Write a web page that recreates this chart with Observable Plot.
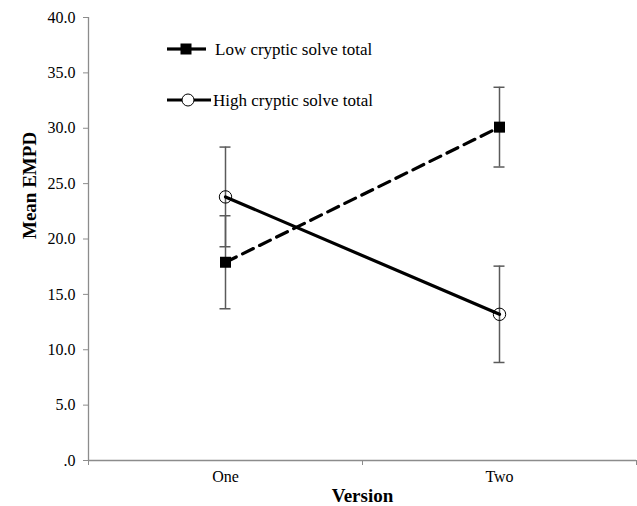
<!DOCTYPE html>
<html>
<head>
<meta charset="utf-8">
<script src="https://cdn.jsdelivr.net/npm/d3@7"></script>
<script src="https://cdn.jsdelivr.net/npm/@observablehq/plot@0.6"></script>
<style>
  html, body { margin: 0; padding: 0; background: #fff; }
  #wrap { position: relative; width: 637px; height: 506px; font-family: "Liberation Serif", "Times New Roman", serif; }
  #wrap svg text { font-family: "Liberation Serif", "Times New Roman", serif; }
  #legend { position: absolute; left: 0; top: 0; pointer-events: none; }
</style>
</head>
<body>
<div id="wrap"></div>
<script>
// ---- data ----
const versions = ["One", "Two"];
const lowMeans = [17.9, 30.1];
const lowErrs = [4.2, 3.6];
const highMeans = [23.8, 13.2];
const highErrs = [4.5, 4.35];
const seriesNames = ["Low cryptic solve total", "High cryptic solve total"];
const yTicks = [0, 5, 10, 15, 20, 25, 30, 35, 40];
const yTickLabels = [".0", "5.0", "10.0", "15.0", "20.0", "25.0", "30.0", "35.0", "40.0"];
const xTitle = "Version";
const yTitle = "Mean EMPD";

// build rows (x positioned at category index + 0.5 on a linear scale)
const rows = [];
versions.forEach((v, i) => {
  rows.push({series: seriesNames[0], pos: i + 0.5, mean: lowMeans[i], lo: lowMeans[i] - lowErrs[i], hi: lowMeans[i] + lowErrs[i]});
  rows.push({series: seriesNames[1], pos: i + 0.5, mean: highMeans[i], lo: highMeans[i] - highErrs[i], hi: highMeans[i] + highErrs[i]});
});
const low = rows.filter(d => d.series === seriesNames[0]);
const high = rows.filter(d => d.series === seriesNames[1]);
const caps = rows.flatMap(d => [{pos: d.pos, y: d.lo}, {pos: d.pos, y: d.hi}]);
const boundaries = d3.range(versions.length + 1);
const centers = versions.map((v, i) => i + 0.5);

const axisGrey = "#8c8c8c";
const barGrey = "#5a5a5a";

const chart = Plot.plot({
  width: 637,
  height: 506,
  marginLeft: 88,
  marginRight: 1,
  marginTop: 17,
  marginBottom: 46,
  style: {fontFamily: "'Liberation Serif', 'Times New Roman', serif", background: "#fff", color: "#000"},
  x: {type: "linear", domain: [0, versions.length]},
  y: {domain: [0, 40]},
  marks: [
    // axes lines
    Plot.ruleX([0], {y1: 0, y2: 40, stroke: axisGrey, strokeWidth: 1.3}),
    Plot.ruleY([0], {x1: 0, x2: versions.length, stroke: axisGrey, strokeWidth: 1.3}),
    Plot.axisY({ticks: yTicks, tickFormat: d => yTickLabels[yTicks.indexOf(d)], tickSize: 5, tickPadding: 8,
      stroke: axisGrey, fill: "#000", fontSize: 16, label: null}),
    Plot.axisX({ticks: boundaries, tickFormat: () => "", tickSize: 5, stroke: axisGrey, label: null}),
    Plot.axisX({ticks: centers, tickFormat: d => versions[Math.floor(d)], tickSize: 0, tickPadding: 10,
      fill: "#000", fontSize: 16, label: null}),
    // titles
    Plot.text([xTitle], {frameAnchor: "bottom", dy: 41, fontSize: 19, fontWeight: "bold", fill: "#000"}),
    Plot.text([yTitle], {frameAnchor: "left", dx: -59, rotate: -90, fontSize: 19, fontWeight: "bold", fill: "#000"}),
    // error bars
    Plot.ruleX(rows, {x: "pos", y1: "lo", y2: "hi", stroke: barGrey, strokeWidth: 1.5}),
    Plot.ruleY(caps, {y: "y", x1: "pos", x2: "pos", insetLeft: -5.5, insetRight: -5.5, stroke: barGrey, strokeWidth: 1.5}),
    // lines
    Plot.line(low, {x: "pos", y: "mean", stroke: "#000", strokeWidth: 3.2, strokeDasharray: "12,7"}),
    Plot.line(high, {x: "pos", y: "mean", stroke: "#000", strokeWidth: 3.2}),
    // markers
    Plot.dot(low, {x: "pos", y: "mean", symbol: "square", r: 6.2, fill: "#000", stroke: "none"}),
    Plot.dot(high, {x: "pos", y: "mean", symbol: "circle", r: 6.2, fill: "none", stroke: "#000", strokeWidth: 1})
  ]
});

const wrap = document.getElementById("wrap");
wrap.appendChild(chart);

// ---- legend overlay ----
const leg = d3.select(wrap).append("svg").attr("id", "legend").attr("width", 637).attr("height", 506);
const legItems = [
  {name: seriesNames[0], y: 49, dash: true, x0: 167, x1: 206, mx: 186, textX: 215},
  {name: seriesNames[1], y: 100, dash: false, x0: 167, x1: 211, mx: 188, textX: 213}
];
legItems.forEach(it => {
  if (it.dash) {
    leg.append("line").attr("x1", it.x0).attr("x2", it.mx - 5).attr("y1", it.y).attr("y2", it.y)
      .attr("stroke", "#000").attr("stroke-width", 3.2);
    leg.append("line").attr("x1", it.mx + 5).attr("x2", it.x1).attr("y1", it.y).attr("y2", it.y)
      .attr("stroke", "#000").attr("stroke-width", 3.2);
    leg.append("rect").attr("x", it.mx - 5.5).attr("y", it.y - 5.5).attr("width", 11).attr("height", 11).attr("fill", "#000");
  } else {
    leg.append("line").attr("x1", it.x0).attr("x2", it.x1).attr("y1", it.y).attr("y2", it.y)
      .attr("stroke", "#000").attr("stroke-width", 3.2);
    leg.append("circle").attr("cx", it.mx).attr("cy", it.y).attr("r", 6).attr("fill", "#fff")
      .attr("stroke", "#000").attr("stroke-width", 1);
  }
  leg.append("text").attr("x", it.textX).attr("y", it.y).attr("dy", "0.35em")
    .attr("font-family", "'Liberation Serif', 'Times New Roman', serif").attr("font-size", 17)
    .attr("fill", "#000").text(it.name);
});
</script>
</body>
</html>
